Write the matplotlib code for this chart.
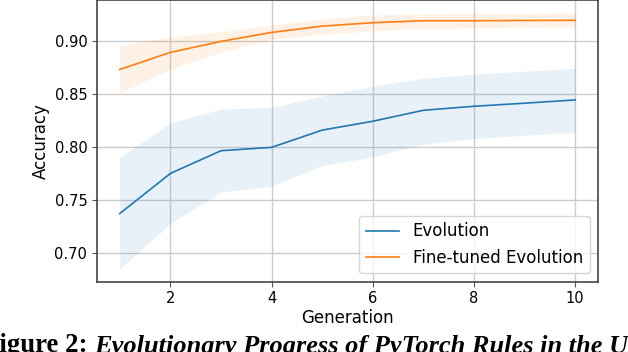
import matplotlib
matplotlib.use("Agg")
import matplotlib.pyplot as plt
import numpy as np

generations = [1, 2, 3, 4, 5, 6, 7, 8, 9, 10]
evo_mean = [0.737, 0.775, 0.7965, 0.7997, 0.816, 0.8244, 0.8348, 0.8386, 0.8415, 0.8446]
evo_upper = [0.7905, 0.8228, 0.836, 0.8374, 0.8484, 0.8576, 0.865, 0.869, 0.8718, 0.8744]
evo_lower = [0.6848, 0.7276, 0.7573, 0.7629, 0.7824, 0.7905, 0.8026, 0.808, 0.8112, 0.8142]
ft_mean = [0.8734, 0.8896, 0.900, 0.9085, 0.9145, 0.9177, 0.9196, 0.9196, 0.9198, 0.920]
ft_upper = [0.8965, 0.904, 0.909, 0.9155, 0.921, 0.925, 0.926, 0.9262, 0.9264, 0.9266]
ft_lower = [0.8516, 0.8737, 0.890, 0.9019, 0.907, 0.910, 0.912, 0.9128, 0.9134, 0.9139]

W, H = 628, 352
fig = plt.figure(figsize=(W / 100, H / 100), dpi=100)
ax = fig.add_axes([97 / W, 1 - 281.7 / H, (598 - 97) / W, 281.7 / H])

fs_tick = 10.5
fs_lab = 12
ax.fill_between(generations, evo_lower, evo_upper, color="C0", alpha=0.1, linewidth=0)
ax.fill_between(generations, ft_lower, ft_upper, color="C1", alpha=0.1, linewidth=0)
ax.plot(generations, evo_mean, color="C0", linewidth=1.2, label="Evolution")
ax.plot(generations, ft_mean, color="C1", linewidth=1.2, label="Fine-tuned Evolution")

ax.set_xlim(0.55, 10.45)
ax.set_ylim(0.6725, 0.9392)
ax.set_xticks([2, 4, 6, 8, 10])
ax.set_yticks([0.70, 0.75, 0.80, 0.85, 0.90])
ax.set_yticklabels(["0.70", "0.75", "0.80", "0.85", "0.90"])
ax.tick_params(labelsize=fs_tick, length=3.5, width=0.8, color="#555555")
ax.grid(True, color="#cccccc", linewidth=1.0)
ax.set_axisbelow(True)
for s in ax.spines.values():
    s.set_color("#444444")
    s.set_linewidth(1.2)
ax.set_xlabel("Generation", fontsize=fs_lab, labelpad=2)
ax.set_ylabel("Accuracy", fontsize=fs_lab, labelpad=3)
ax.legend(loc="lower right", fontsize=fs_lab, framealpha=0.8)

# caption (cropped at the bottom and left of the image)
renderer = fig.canvas.get_renderer()
rest = "Evolutionary Progress of PyTorch Rules in the U"
probe = fig.text(0, 0, rest, family="Liberation Serif", weight="bold", style="italic", fontsize=10)
w = probe.get_window_extent(renderer).width
probe.remove()
cfs = 10 * 534 / w
probe = fig.text(0, 0, "Figure 2:", family="Liberation Serif", weight="bold", fontsize=10)
w2 = probe.get_window_extent(renderer).width
probe.remove()
cfs2 = 10 * 105 / w2
ybase = (H - 352.5) / H
fig.text(94 / W, ybase, "Evolutionary Progress of PyTorch Rules in the Use Case",
         family="Liberation Serif", weight="bold", style="italic", fontsize=cfs,
         ha="left", va="baseline")
fig.text(-17 / W, ybase, "Figure 2:", family="Liberation Serif", weight="bold",
         fontsize=cfs2, ha="left", va="baseline")

fig.savefig("out.png", dpi=100)
